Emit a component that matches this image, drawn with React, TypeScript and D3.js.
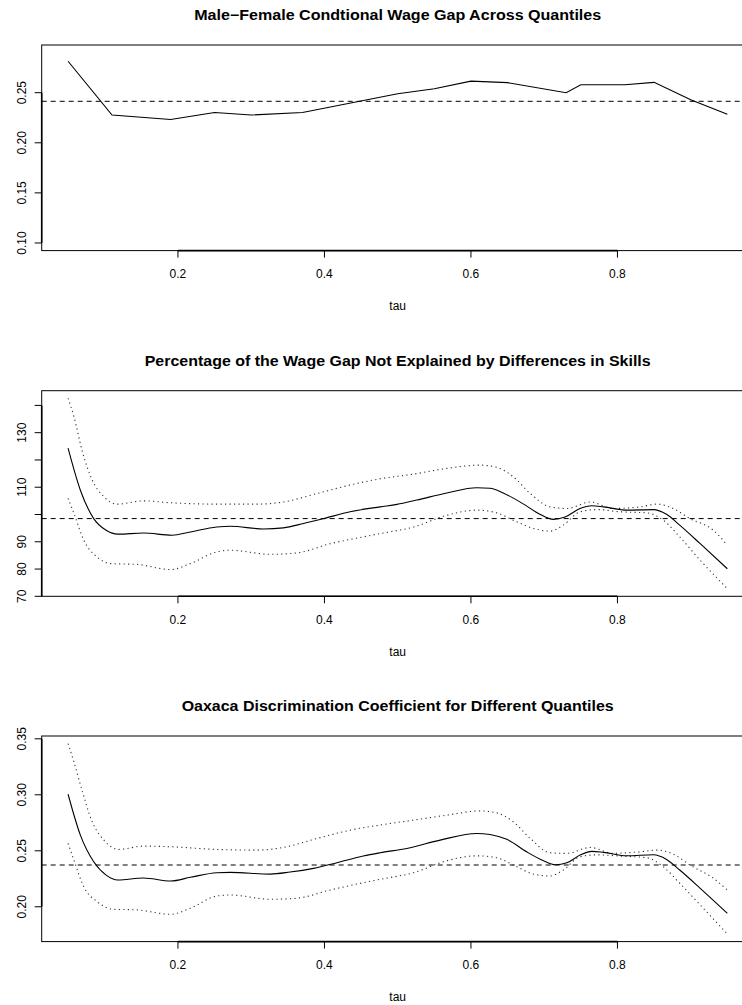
import React from "react";
import * as d3 from "d3";

// ---------- data ----------
const xTicks = [0.2, 0.4, 0.6, 0.8];

// Panel 1: conditional wage gap
const tau1 = [0.05, 0.11, 0.19, 0.25, 0.30, 0.37, 0.50, 0.55, 0.60, 0.65, 0.73, 0.75, 0.81, 0.85, 0.90, 0.95];
const gap1 = [0.2814, 0.2277, 0.2233, 0.2302, 0.2277, 0.2302, 0.249, 0.254, 0.2615, 0.260, 0.250, 0.258, 0.258, 0.2603, 0.243, 0.2284];
const gapMean1 = 0.2414;
const yTicks1 = [0.10, 0.15, 0.20, 0.25];
const yLabels1 = ["0.10", "0.15", "0.20", "0.25"];

// Panel 2: percentage not explained
const tau2 = [0.05, 0.0668, 0.085, 0.102, 0.118, 0.153, 0.192, 0.217, 0.253, 0.2715, 0.317, 0.344, 0.3715, 0.399, 0.435, 0.476, 0.499, 0.526, 0.567, 0.608, 0.626, 0.644, 0.672, 0.694, 0.7125, 0.7285, 0.749, 0.765, 0.781, 0.813, 0.849, 0.867, 0.885, 0.913, 0.95];
const pct2 = [124.3, 108.9, 98.5, 94.2, 92.8, 93.2, 92.4, 93.6, 95.4, 95.7, 94.7, 95.1, 96.7, 98.5, 101, 102.8, 103.7, 105.3, 107.9, 109.8, 109.6, 107.9, 103.8, 100.1, 98.2, 99.1, 102.2, 103.2, 102.8, 101.6, 101.8, 100.1, 96.1, 89.3, 80.1];
const tau2Up = [0.05, 0.058, 0.069, 0.083, 0.099, 0.117, 0.153, 0.19, 0.253, 0.308, 0.344, 0.39, 0.435, 0.476, 0.5215, 0.567, 0.6125, 0.635, 0.658, 0.681, 0.708, 0.731, 0.763, 0.794, 0.831, 0.854, 0.876, 0.899, 0.931, 0.95];
const pct2Up = [142.6, 135.9, 123.6, 112.6, 106.5, 103.8, 105, 104.3, 103.8, 103.8, 104.6, 107.7, 110.8, 113.1, 114.8, 116.9, 118.1, 117.3, 113.8, 107.7, 102.8, 102.2, 104.6, 102.2, 102.8, 103.8, 102.2, 98.5, 94.2, 88.7];
const tau2Lo = [0.05, 0.058, 0.0714, 0.0896, 0.108, 0.144, 0.19, 0.217, 0.253, 0.2715, 0.326, 0.362, 0.408, 0.453, 0.476, 0.5215, 0.567, 0.608, 0.635, 0.6626, 0.685, 0.708, 0.726, 0.749, 0.772, 0.8035, 0.84, 0.8626, 0.885, 0.913, 0.95];
const pct2Lo = [105.9, 100.4, 90.6, 84.4, 82, 81.7, 79.8, 82, 86.3, 86.9, 85.4, 85.9, 89.3, 91.8, 93, 95.4, 99.7, 101.6, 100.6, 97.3, 94.9, 93.9, 96.1, 101, 101.8, 101, 100.6, 97.9, 91.8, 83.2, 72.8];
const pctMean2 = 98.5;
const yTicks2 = [70, 80, 90, 100, 110, 120, 130, 140];
const yLabels2 = ["70", "80", "90", "", "110", "", "130", ""];

// Panel 3: Oaxaca discrimination coefficient
const tau3 = [0.05, 0.0668, 0.085, 0.102, 0.118, 0.153, 0.19, 0.217, 0.253, 0.2715, 0.326, 0.353, 0.385, 0.417, 0.453, 0.476, 0.5125, 0.558, 0.608, 0.626, 0.649, 0.676, 0.699, 0.715, 0.731, 0.749, 0.765, 0.781, 0.813, 0.849, 0.867, 0.885, 0.913, 0.95];
const coef3 = [0.3005, 0.264, 0.2402, 0.2283, 0.2239, 0.2257, 0.223, 0.2263, 0.2304, 0.2307, 0.2292, 0.231, 0.2343, 0.2393, 0.2453, 0.2482, 0.2521, 0.2595, 0.2655, 0.2646, 0.2602, 0.2491, 0.2411, 0.2375, 0.2393, 0.2462, 0.2495, 0.2486, 0.2455, 0.2464, 0.2423, 0.2328, 0.2165, 0.1942];
const tau3Up = [0.05, 0.058, 0.069, 0.083, 0.099, 0.119, 0.153, 0.19, 0.253, 0.308, 0.344, 0.39, 0.435, 0.476, 0.5215, 0.567, 0.6125, 0.635, 0.658, 0.681, 0.708, 0.731, 0.763, 0.794, 0.831, 0.854, 0.876, 0.899, 0.931, 0.95];
const coef3Up = [0.3457, 0.3293, 0.3041, 0.2758, 0.2595, 0.2512, 0.2542, 0.2536, 0.2512, 0.2506, 0.253, 0.261, 0.2684, 0.273, 0.2774, 0.2818, 0.2856, 0.2839, 0.2758, 0.261, 0.2482, 0.2477, 0.253, 0.2477, 0.2491, 0.2506, 0.2471, 0.2373, 0.2254, 0.215];
const tau3Lo = [0.05, 0.058, 0.0714, 0.0896, 0.112, 0.144, 0.19, 0.217, 0.253, 0.2715, 0.326, 0.362, 0.408, 0.453, 0.476, 0.5215, 0.567, 0.608, 0.635, 0.6626, 0.685, 0.708, 0.726, 0.749, 0.772, 0.8035, 0.84, 0.8626, 0.885, 0.913, 0.95];
const coef3Lo = [0.2566, 0.2417, 0.2179, 0.2046, 0.1978, 0.1972, 0.1933, 0.1987, 0.2096, 0.2105, 0.2067, 0.2076, 0.215, 0.2215, 0.2245, 0.2304, 0.2411, 0.2455, 0.2438, 0.2357, 0.2292, 0.2275, 0.2328, 0.2447, 0.2464, 0.2453, 0.2438, 0.2357, 0.221, 0.2016, 0.1757];
const coefMean3 = 0.2373;
const yTicks3 = [0.20, 0.25, 0.30, 0.35];
const yLabels3 = ["0.20", "0.25", "0.30", "0.35"];

// ---------- layout ----------
const W = 742;
const H = 1005;
const PLOT_LEFT = 41.7;
const PLOT_RIGHT = 753.7;
const PLOT_H = 205.6;
const FONT = "'Liberation Sans', Arial, Helvetica, sans-serif";

const extend = (lo: number, hi: number): [number, number] => {
  const d = (hi - lo) * 0.04;
  return [lo - d, hi + d];
};

const xScale = d3
  .scaleLinear()
  .domain(extend(0.05, 0.95))
  .range([PLOT_LEFT, PLOT_RIGHT]);

type Series = { x: number[]; y: number[]; kind: "solid" | "dotted"; smooth: boolean };

interface PanelProps {
  top: number;
  title: string;
  titleWidth: number;
  ylim: [number, number];
  yTicks: number[];
  yLabels: string[];
  series: Series[];
  hline: number;
}

function Panel({ top, title, titleWidth, ylim, yTicks, yLabels, series, hline }: PanelProps) {
  const bottom = top + PLOT_H;
  const yScale = d3.scaleLinear().domain(extend(ylim[0], ylim[1])).range([bottom, top]);
  const cx = (PLOT_LEFT + PLOT_RIGHT) / 2;

  return (
    <g>
      <defs>
        <clipPath id={`clip-${top}`}>
          <rect x={PLOT_LEFT} y={top} width={PLOT_RIGHT - PLOT_LEFT} height={PLOT_H} />
        </clipPath>
      </defs>
      <text
        x={cx}
        y={top - 30}
        dy="0.35em"
        textAnchor="middle"
        fontFamily={FONT}
        fontWeight="bold"
        fontSize={14.5}
        textLength={titleWidth}
        lengthAdjust="spacingAndGlyphs"
        fill="#000"
      >
        {title}
      </text>

      <g clipPath={`url(#clip-${top})`}>
        <line
          x1={PLOT_LEFT}
          x2={PLOT_RIGHT}
          y1={yScale(hline)}
          y2={yScale(hline)}
          stroke="#000"
          strokeWidth={1}
          strokeDasharray="5,4"
        />
        {series.map((s, i) => {
          const pts = s.x.map((x, j) => [x, s.y[j]] as [number, number]);
          const gen = d3
            .line<[number, number]>()
            .x((d) => xScale(d[0]))
            .y((d) => yScale(d[1]))
            .curve(s.smooth ? d3.curveMonotoneX : d3.curveLinear);
          return (
            <path
              key={i}
              d={gen(pts) || ""}
              fill="none"
              stroke={s.kind === "dotted" ? "#333" : "#000"}
              strokeWidth={s.kind === "dotted" ? 1.1 : 1.1}
              strokeDasharray={s.kind === "dotted" ? "1.2,3.3" : undefined}
              strokeLinecap="butt"
            />
          );
        })}
      </g>

      {/* box */}
      <rect
        x={PLOT_LEFT}
        y={top}
        width={PLOT_RIGHT - PLOT_LEFT}
        height={PLOT_H}
        fill="none"
        stroke="#000"
        strokeWidth={1}
      />

      {/* x axis */}
      <line
        x1={xScale(xTicks[0])}
        x2={xScale(xTicks[xTicks.length - 1])}
        y1={bottom}
        y2={bottom}
        stroke="#000"
        strokeWidth={1.6}
      />
      {xTicks.map((t) => (
        <g key={`x${t}`}>
          <line x1={xScale(t)} x2={xScale(t)} y1={bottom} y2={bottom + 7} stroke="#000" strokeWidth={1} />
          <text
            x={xScale(t)}
            y={bottom + 23.5}
            dy="0.35em"
            textAnchor="middle"
            fontFamily={FONT}
            fontSize={12}
            fill="#000"
          >
            {t.toFixed(1)}
          </text>
        </g>
      ))}
      <text x={cx} y={bottom + 55} dy="0.35em" textAnchor="middle" fontFamily={FONT} fontSize={12} fill="#000">
        tau
      </text>

      {/* y axis */}
      <line
        x1={PLOT_LEFT}
        x2={PLOT_LEFT}
        y1={yScale(yTicks[0])}
        y2={yScale(yTicks[yTicks.length - 1])}
        stroke="#000"
        strokeWidth={1.6}
      />
      {yTicks.map((t, i) => (
        <g key={`y${t}`}>
          <line x1={PLOT_LEFT - 7} x2={PLOT_LEFT} y1={yScale(t)} y2={yScale(t)} stroke="#000" strokeWidth={1} />
          {yLabels[i] ? (
            <text
              transform={`translate(${21.5},${yScale(t)}) rotate(-90)`}
              dy="0.35em"
              textAnchor="middle"
              fontFamily={FONT}
              fontSize={12}
              fill="#000"
            >
              {yLabels[i]}
            </text>
          ) : null}
        </g>
      ))}
    </g>
  );
}

export default function App() {
  const range2 = d3.extent([...pct2Up, ...pct2Lo]) as [number, number];
  const range3 = d3.extent([...coef3Up, ...coef3Lo]) as [number, number];
  return (
    <svg
      width={W}
      height={H}
      viewBox={`0 0 ${W} ${H}`}
      style={{ position: "absolute", left: 0, top: 0, background: "#fff" }}
    >
      <rect x={0} y={0} width={W} height={H} fill="#fff" />
      <Panel
        top={45}
        title="Male−Female Condtional Wage Gap Across Quantiles"
        titleWidth={407}
        ylim={[0.1, 0.29]}
        yTicks={yTicks1}
        yLabels={yLabels1}
        series={[{ x: tau1, y: gap1, kind: "solid", smooth: false }]}
        hline={gapMean1}
      />
      <Panel
        top={390.7}
        title="Percentage of the Wage Gap Not Explained by Differences in Skills"
        titleWidth={506}
        ylim={range2}
        yTicks={yTicks2}
        yLabels={yLabels2}
        series={[
          { x: tau2Up, y: pct2Up, kind: "dotted", smooth: true },
          { x: tau2Lo, y: pct2Lo, kind: "dotted", smooth: true },
          { x: tau2, y: pct2, kind: "solid", smooth: true },
        ]}
        hline={pctMean2}
      />
      <Panel
        top={736}
        title="Oaxaca Discrimination Coefficient for Different Quantiles"
        titleWidth={432}
        ylim={range3}
        yTicks={yTicks3}
        yLabels={yLabels3}
        series={[
          { x: tau3Up, y: coef3Up, kind: "dotted", smooth: true },
          { x: tau3Lo, y: coef3Lo, kind: "dotted", smooth: true },
          { x: tau3, y: coef3, kind: "solid", smooth: true },
        ]}
        hline={coefMean3}
      />
    </svg>
  );
}
